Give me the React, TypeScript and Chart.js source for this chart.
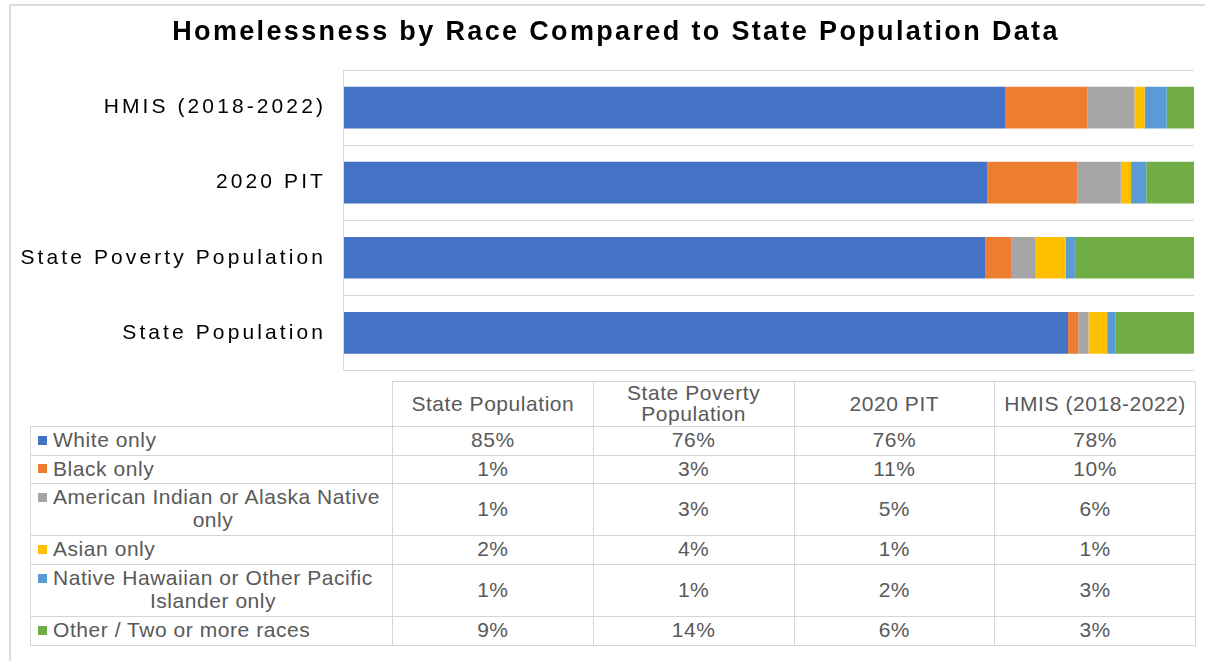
import React, { useEffect, useRef } from 'react';
import { Chart, registerables } from 'chart.js';

Chart.register(...registerables);

const FONT = '"Liberation Sans", Arial, Helvetica, sans-serif';

const titleText = 'Homelessness by Race Compared to State Population Data';
const categories = ['State Population', 'State Poverty Population', '2020 PIT', 'HMIS (2018-2022)'];
const races = [
  'White only',
  'Black only',
  'American Indian or Alaska Native\nonly',
  'Asian only',
  'Native Hawaiian or Other Pacific\nIslander only',
  'Other / Two or more races',
];
const raceColors = ['#4472C4', '#ED7D31', '#A5A5A5', '#FFC000', '#5B9BD5', '#70AD47'];

// values per category (State Population, State Poverty Population, 2020 PIT, HMIS)
const whiteOnly = [85.2, 75.5, 75.7, 77.8];
const blackOnly = [1.2, 3.0, 10.6, 9.7];
const amIndianOnly = [1.2, 2.9, 5.1, 5.5];
const asianOnly = [2.2, 3.5, 1.2, 1.2];
const nhpiOnly = [1.0, 1.1, 1.8, 2.6];
const otherRaces = [9.2, 14.0, 5.6, 3.2];

const seriesValues = [whiteOnly, blackOnly, amIndianOnly, asianOnly, nhpiOnly, otherRaces];

// Title is drawn (z <= 0) with its own spacing and a small horizontal offset;
// axis labels / grid / border are drawn after the datasets (z = 1).
const spacingPlugin = {
  id: 'letterSpacing',
  beforeLayout(chart: any) {
    chart.ctx.letterSpacing = '3.1px';
  },
  beforeDraw(chart: any) {
    const ctx = chart.ctx;
    ctx.save();
    ctx.translate(19, 0);
    ctx.letterSpacing = '2.35px';
  },
  beforeDatasetsDraw(chart: any) {
    chart.ctx.restore();
  },
  afterDatasetsDraw(chart: any) {
    chart.ctx.letterSpacing = '3.1px';
  },
};

const ChartCanvas = () => {
  const ref = useRef<HTMLCanvasElement | null>(null);
  useEffect(() => {
    if (!ref.current) return;
    const chartLabels = [...categories].reverse();
    const chart = new Chart(ref.current, {
      type: 'bar',
      data: {
        labels: chartLabels,
        datasets: races.map((r, i) => ({
          label: r.replace('\n', ' '),
          data: [...seriesValues[i]].reverse(),
          backgroundColor: raceColors[i],
          borderWidth: 0,
          barPercentage: 1,
          categoryPercentage: 0.555,
        })),
      },
      options: {
        indexAxis: 'y',
        animation: false,
        responsive: true,
        maintainAspectRatio: false,
        layout: { padding: { left: 0, right: 11, top: 0, bottom: 11 } },
        plugins: {
          legend: { display: false },
          tooltip: { enabled: false },
          title: {
            display: true,
            text: titleText,
            color: '#000',
            font: { family: FONT, size: 27, weight: 'bold' },
            padding: { top: 16, bottom: 21.6 },
          },
        },
        scales: {
          x: {
            stacked: true,
            display: false,
            min: 0,
            max: 100,
          },
          y: {
            stacked: true,
            grid: { color: '#d9d9d9', lineWidth: 1, drawTicks: false, offset: true, z: 1 },
            border: { display: true, color: '#d9d9d9', width: 1, z: 1 },
            ticks: { color: '#000', font: { family: FONT, size: 21 }, padding: 17, z: 1 },
            afterFit: (s: any) => {
              s.width = 343;
            },
          },
        },
      },
      plugins: [spacingPlugin],
    } as any);
    return () => chart.destroy();
  }, []);
  return <canvas ref={ref} />;
};

const cellBorder = '1px solid #d6d6d6';
const rowHeights = [29, 28, 52, 29, 52, 29];

const App = () => {
  return (
    <div
      style={{
        position: 'absolute',
        left: 0,
        top: 0,
        width: 1205,
        height: 661,
        overflow: 'hidden',
        background: '#fff',
        fontFamily: FONT,
      }}
    >
      <div
        style={{
          position: 'absolute',
          left: 9,
          top: 4,
          width: 1300,
          height: 700,
          borderLeft: '2px solid #dcdcdc',
          borderTop: '2px solid #dcdcdc',
        }}
      />
      <div style={{ position: 'absolute', left: 0, top: 0, width: 1205, height: 400 }}>
        <ChartCanvas />
      </div>
      <table
        style={{
          position: 'absolute',
          left: 30,
          top: 381,
          width: 1165,
          borderCollapse: 'collapse',
          tableLayout: 'fixed',
          fontSize: 21,
          letterSpacing: '0.55px',
          color: '#595959',
          fontFamily: FONT,
          background: '#fff',
        }}
      >
        <colgroup>
          <col style={{ width: 362 }} />
          {categories.map((c) => (
            <col key={c} style={{ width: 200.75 }} />
          ))}
        </colgroup>
        <tbody>
          <tr style={{ height: 45 }}>
            <td style={{ border: 'none', padding: 0 }} />
            {categories.map((c) => (
              <td
                key={c}
                style={{
                  border: cellBorder,
                  textAlign: 'center',
                  verticalAlign: 'middle',
                  lineHeight: '21px',
                  padding: '0 2px 2px 2px',
                }}
              >
                {c}
              </td>
            ))}
          </tr>
          {races.map((r, i) => {
            const [first, ...rest] = r.split('\n');
            return (
              <tr key={r} style={{ height: rowHeights[i] }}>
                <td
                  style={{
                    border: cellBorder,
                    padding: '0 4px 3px 7px',
                    lineHeight: '23px',
                    verticalAlign: 'middle',
                  }}
                >
                  <div style={{ textAlign: 'left', whiteSpace: 'nowrap' }}>
                    <span
                      style={{
                        display: 'inline-block',
                        width: 9,
                        height: 9,
                        background: raceColors[i],
                        marginRight: 6,
                        verticalAlign: 'middle',
                        position: 'relative',
                        top: -1,
                      }}
                    />
                    {first}
                  </div>
                  {rest.length > 0 && <div style={{ textAlign: 'center' }}>{rest.join(' ')}</div>}
                </td>
                {categories.map((c, j) => (
                  <td
                    key={c}
                    style={{
                      border: cellBorder,
                      textAlign: 'center',
                      verticalAlign: 'middle',
                      padding: '0 0 3px 0',
                      lineHeight: '23px',
                    }}
                  >
                    {Math.round(seriesValues[i][j]) + '%'}
                  </td>
                ))}
              </tr>
            );
          })}
        </tbody>
      </table>
    </div>
  );
};

export default App;
